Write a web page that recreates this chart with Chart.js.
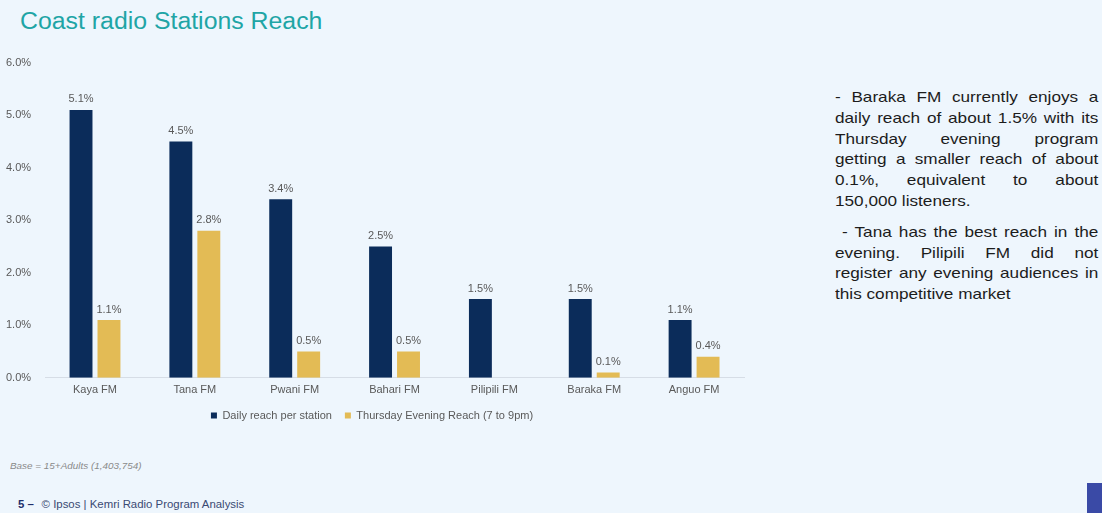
<!DOCTYPE html>
<html>
<head>
<meta charset="utf-8">
<script src="https://cdn.jsdelivr.net/npm/chart.js@4/dist/chart.umd.min.js"></script>
<style>
  body { margin: 0; width: 1102px; height: 513px; background: #eef6fd; overflow: hidden;
         font-family: "Liberation Sans", Arial, sans-serif; position: relative; }
  .wide { transform-origin: left top; white-space: nowrap; }
  #title { position: absolute; left: 20px; top: 8px; font-size: 23px; color: #1fa5a6; transform: scaleX(1.08); }
  #chartBox { position: absolute; left: 0; top: 50px; width: 752px; height: 381px; }
  #notes { position: absolute; left: 835px; top: 87px; width: 230px; font-size: 15px;
           line-height: 20.8px; color: #1c1c1c;
           transform: scaleX(1.145); transform-origin: left top; }
  #notes p { margin: 0 0 10px 0; }
  #notes span { display: block; text-align: justify; text-align-last: justify; white-space: nowrap; }
  #notes span.last { text-align-last: left; }
  #base { position: absolute; left: 10px; top: 461px; font-size: 9px; font-style: italic; color: #8a8a8a; transform: scaleX(1.1); }
  #footer { position: absolute; left: 18px; top: 499px; font-size: 10px; color: #3b4a73; transform: scaleX(1.14); }
  #footer b { color: #1f2f6b; margin-right: 4px; }
  #corner { position: absolute; left: 1087px; top: 483px; width: 15px; height: 30px; background: #3a4aa6; }
</style>
</head>
<body>
<div id="title" class="wide">Coast radio Stations Reach</div>
<div id="chartBox"><canvas id="reachChart"></canvas></div>
<div id="notes">
  <p>
    <span>- Baraka FM currently enjoys a</span>
    <span>daily reach of about 1.5% with its</span>
    <span>Thursday evening program</span>
    <span>getting a smaller reach of about</span>
    <span>0.1%, equivalent to about</span>
    <span class="last">150,000 listeners.</span>
  </p>
  <p>
    <span>&nbsp;- Tana has the best reach in the</span>
    <span>evening. Pilipili FM did not</span>
    <span>register any evening audiences in</span>
    <span class="last">this competitive market</span>
  </p>
</div>
<div id="base" class="wide">Base = 15+Adults (1,403,754)</div>
<div id="footer" class="wide"><b>5 –</b> © Ipsos | Kemri Radio Program Analysis</div>
<div id="corner"></div>

<script>
// chart data
let stations = ["Kaya FM", "Tana FM", "Pwani FM", "Bahari FM", "Pilipili FM", "Baraka FM", "Anguo FM"];
let dailyReach = [5.1, 4.5, 3.4, 2.5, 1.5, 1.5, 1.1];
let eveningReach = [1.1, 2.8, 0.5, 0.5, 0, 0.1, 0.4];
let seriesNames = ["Daily reach per station", "Thursday Evening Reach (7 to 9pm)"];

// value labels above the bars
const barLabels = {
    id: 'barLabels',
    afterDatasetsDraw(chart) {
        let ctx = chart.ctx;
        ctx.save();
        ctx.font = '11px "Liberation Sans", Arial, sans-serif';
        ctx.fillStyle = '#595959';
        ctx.textAlign = 'center';
        ctx.textBaseline = 'bottom';
        chart.data.datasets.forEach((ds, i) => {
            chart.getDatasetMeta(i).data.forEach((bar, j) => {
                let v = ds.data[j];
                if (!v) return;
                ctx.fillText(v.toFixed(1) + '%', bar.x, bar.y - 5);
            });
        });
        ctx.restore();
    }
};

if (document.getElementById("reachChart")) {
    let reachCtx = document.getElementById("reachChart").getContext('2d');

    let reachChart = new Chart(reachCtx, {
        type: 'bar',
        data: {
            labels: stations,
            datasets: [{
                label: seriesNames[0],
                backgroundColor: '#0b2c5a',
                data: dailyReach
            }, {
                label: seriesNames[1],
                backgroundColor: '#e3bb55',
                data: eveningReach
            }]
        },
        options: {
            responsive: true,
            maintainAspectRatio: false,
            animation: false,
            categoryPercentage: 0.56,
            barPercentage: 0.82,
            layout: { padding: { left: 0, right: 8, top: 12, bottom: 0 } },
            scales: {
                x: {
                    grid: { display: false, tickLength: 6 },
                    border: { display: true, color: '#d6dde6' },
                    ticks: { color: '#595959', font: { size: 11 }, padding: 0 }
                },
                y: {
                    min: 0,
                    max: 6,
                    grid: { display: false },
                    border: { display: false },
                    ticks: {
                        stepSize: 1,
                        color: '#595959',
                        font: { size: 11 },
                        padding: 6,
                        callback: v => v.toFixed(1) + '%'
                    }
                }
            },
            plugins: {
                legend: {
                    position: 'bottom',
                    labels: { boxWidth: 6, boxHeight: 6, color: '#595959', font: { size: 11 }, padding: 13 }
                },
                tooltip: { enabled: false }
            }
        },
        plugins: [barLabels]
    });
}
</script>
</body>
</html>
